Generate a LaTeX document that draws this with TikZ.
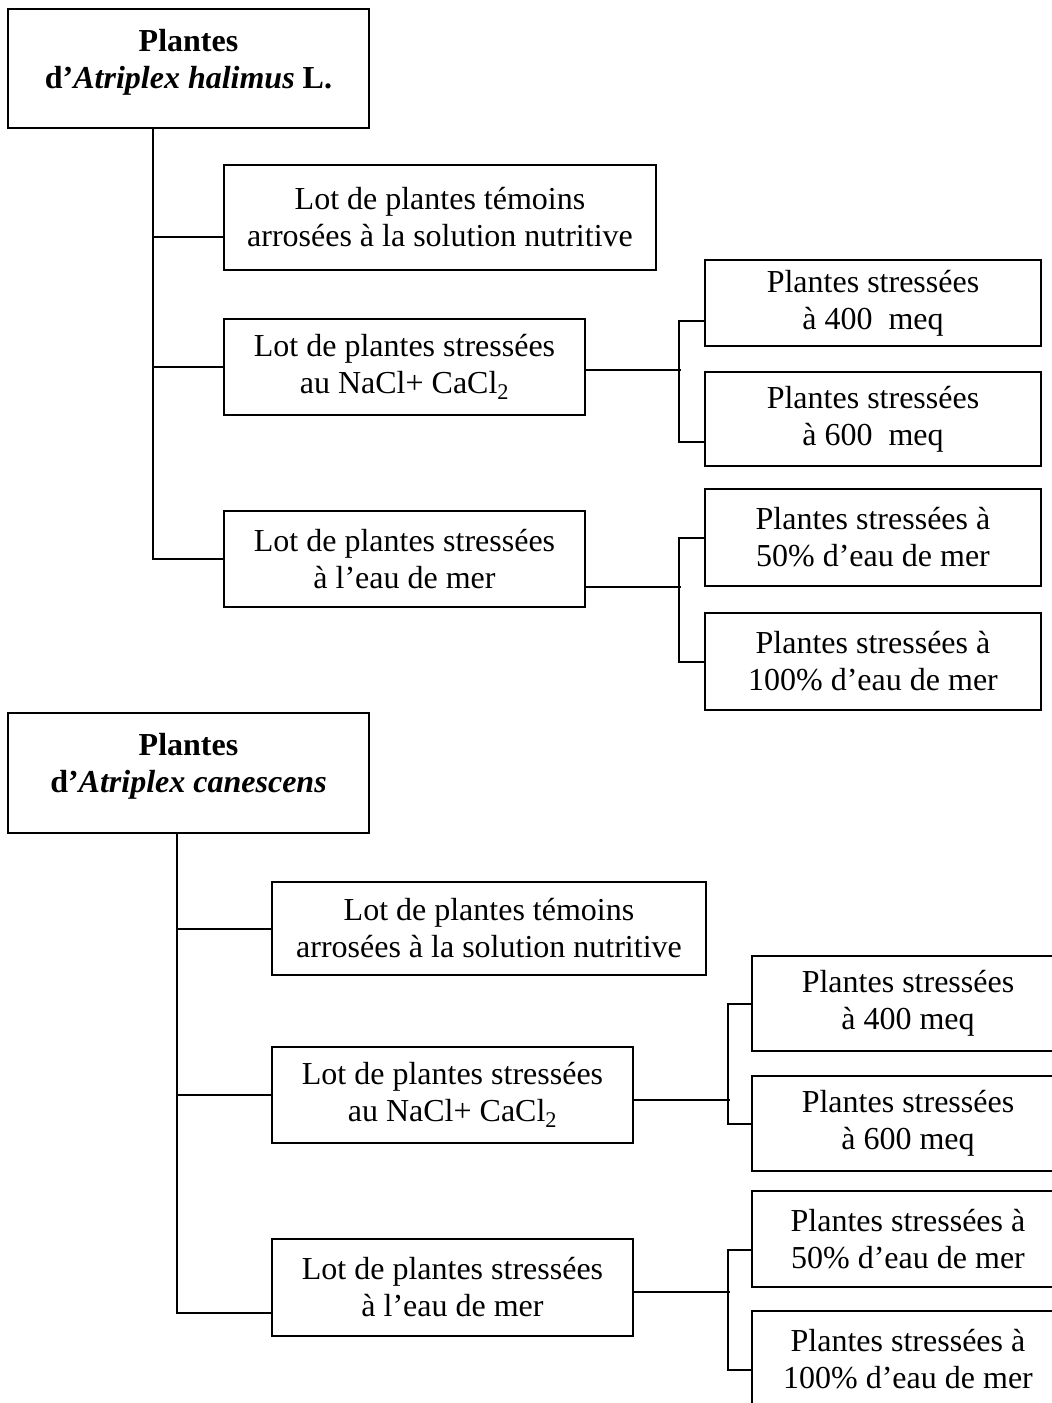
\documentclass[tikz,border=0pt]{standalone}
\usepackage{fontspec}
\setmainfont{Liberation Serif}
\begin{document}
\begin{tikzpicture}[x=1pt,y=-1pt,
  every node/.style={font=\fontsize{32}{37}\selectfont},
  box/.style={draw, line width=2.2pt, inner sep=0pt, align=center},
  conn/.style={line width=2pt}]
\useasboundingbox (0,0) rectangle (1052,1403);
\clip (0,0) rectangle (1052,1403);
% ---------- top tree ----------
\node[box, minimum width=361, minimum height=119,
  label={[align=center, yshift=6pt, font=\fontsize{32}{37}\selectfont\bfseries]center:Plantes\\d’\textit{Atriplex halimus} L.}] (A) at (188.5,68.5) {};
\node[box, minimum width=432, minimum height=105] (T1) at (440,217.5) {Lot de plantes témoins\\arrosées à la solution nutritive};
\node[box, minimum width=361, minimum height=96] (S1) at (404.5,367) {Lot de plantes stressées\\au NaCl+ CaCl\textsubscript{2}};
\node[box, minimum width=361, minimum height=96] (E1) at (404.5,559) {Lot de plantes stressées\\à l’eau de mer};
\node[box, minimum width=336, minimum height=86] (S400) at (873,303) {Plantes stressées\\à 400~~meq};
\node[box, minimum width=336, minimum height=94] (S600) at (873,419) {Plantes stressées\\à 600~~meq};
\node[box, minimum width=336, minimum height=97] (E50) at (873,537.5) {Plantes stressées à\\50\% d’eau de mer};
\node[box, minimum width=336, minimum height=97] (E100) at (873,661.5) {Plantes stressées à\\100\% d’eau de mer};
\coordinate (trA) at ([xshift=-35.5pt]A.south);
\draw[conn] (trA) |- (E1.west);
\draw[conn] ([yshift=-19.5pt]T1.west) -- ++(-71,0);
\draw[conn] (S1.west) -- ++(-71,0);
\draw[conn] ([yshift=-3pt]S1.east) -- ++(95,0);
\draw[conn] ([yshift=-18pt]S400.west) -- ++(-25,0) |- ([yshift=-23pt]S600.west);
\draw[conn] ([yshift=-28pt]E1.east) -- ++(95,0);
\draw[conn] (E50.west) -- ++(-25,0) |- (E100.west);
% ---------- bottom tree ----------
\node[box, minimum width=361, minimum height=120,
  label={[align=center, yshift=7pt, font=\fontsize{32}{37}\selectfont\bfseries]center:Plantes\\d’\textit{Atriplex canescens}}] (B) at (188.5,773) {};
\node[box, minimum width=434, minimum height=93] (T2) at (489,928.5) {Lot de plantes témoins\\arrosées à la solution nutritive};
\node[box, minimum width=361, minimum height=96] (S2) at (452.5,1095) {Lot de plantes stressées\\au NaCl+ CaCl\textsubscript{2}};
\node[box, minimum width=361, minimum height=97] (E2) at (452.5,1287.5) {Lot de plantes stressées\\à l’eau de mer};
\node[box, minimum width=312, minimum height=95] (S400b) at (908,1003.5) {Plantes stressées\\à 400 meq};
\node[box, minimum width=312, minimum height=95] (S600b) at (908,1123.5) {Plantes stressées\\à 600 meq};
\node[box, minimum width=312, minimum height=96] (E50b) at (908,1239) {Plantes stressées à\\50\% d’eau de mer};
\node[box, minimum width=312, minimum height=96] (E100b) at (908,1359) {Plantes stressées à\\100\% d’eau de mer};
\coordinate (trB) at ([xshift=-11.5pt]B.south);
\draw[conn] (trB) |- ([yshift=-25.5pt]E2.west);
\draw[conn] (T2.west) -- ++(-95,0);
\draw[conn] (S2.west) -- ++(-95,0);
\draw[conn] ([yshift=-5pt]S2.east) -- ++(96,0);
\draw[conn] (S400b.west) -- ++(-23,0) |- (S600b.west);
\draw[conn] ([yshift=-4.5pt]E2.east) -- ++(96,0);
\draw[conn] ([yshift=-11pt]E50b.west) -- ++(-23,0) |- ([yshift=-11pt]E100b.west);
\end{tikzpicture}
\end{document}
